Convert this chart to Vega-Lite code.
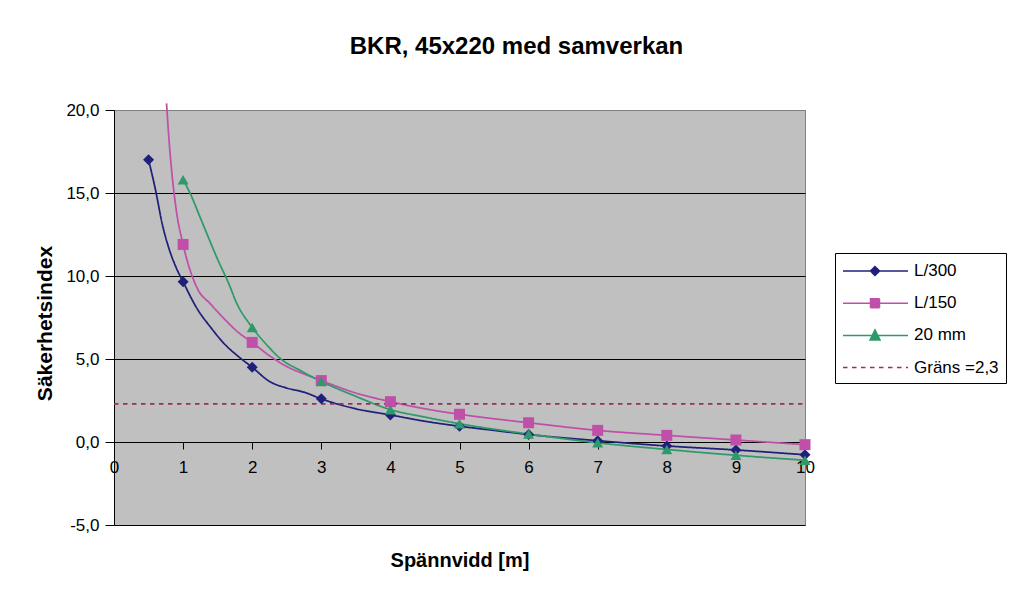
{
  "$schema": "https://vega.github.io/schema/vega-lite/v6.json",
  "width": 691,
  "height": 415,
  "autosize": {"type": "none"},
  "padding": {"left": 114, "top": 110, "right": 207, "bottom": 68},
  "background": "white",
  "title": {
    "text": "BKR, 45x220 med samverkan",
    "font": "Liberation Sans",
    "fontSize": 24,
    "fontWeight": "bold",
    "color": "black",
    "anchor": "middle",
    "dx": 57,
    "baseline": "alphabetic",
    "offset": 22
  },
  "config": {
    "view": {"fill": "#C0C0C0", "stroke": "#808080", "strokeWidth": 1}
  },
  "datasets": {
    "curves": [
      {"series": "L/300", "x": 0.5, "y": 17.0},
      {"series": "L/300", "x": 0.6, "y": 15.2},
      {"series": "L/300", "x": 0.7, "y": 13.1},
      {"series": "L/300", "x": 0.8, "y": 11.6},
      {"series": "L/300", "x": 0.9, "y": 10.5},
      {"series": "L/300", "x": 1.0, "y": 9.65},
      {"series": "L/300", "x": 1.2, "y": 8.05},
      {"series": "L/300", "x": 1.4, "y": 6.9},
      {"series": "L/300", "x": 1.6, "y": 5.9},
      {"series": "L/300", "x": 1.8, "y": 5.15},
      {"series": "L/300", "x": 2.0, "y": 4.5},
      {"series": "L/300", "x": 2.25, "y": 3.65},
      {"series": "L/300", "x": 2.5, "y": 3.25},
      {"series": "L/300", "x": 2.75, "y": 3.0},
      {"series": "L/300", "x": 3.0, "y": 2.6},
      {"series": "L/300", "x": 3.5, "y": 2.0},
      {"series": "L/300", "x": 4.0, "y": 1.63},
      {"series": "L/300", "x": 4.5, "y": 1.25},
      {"series": "L/300", "x": 5.0, "y": 0.95},
      {"series": "L/300", "x": 5.5, "y": 0.7},
      {"series": "L/300", "x": 6.0, "y": 0.45},
      {"series": "L/300", "x": 7.0, "y": 0.08},
      {"series": "L/300", "x": 8.0, "y": -0.24},
      {"series": "L/300", "x": 9.0, "y": -0.48},
      {"series": "L/300", "x": 10.0, "y": -0.77},
      {"series": "L/150", "x": 0.76, "y": 20.4},
      {"series": "L/150", "x": 0.8, "y": 18.0},
      {"series": "L/150", "x": 0.9, "y": 14.0},
      {"series": "L/150", "x": 1.0, "y": 11.9},
      {"series": "L/150", "x": 1.2, "y": 9.3},
      {"series": "L/150", "x": 1.4, "y": 8.3},
      {"series": "L/150", "x": 1.6, "y": 7.4},
      {"series": "L/150", "x": 1.8, "y": 6.6},
      {"series": "L/150", "x": 2.0, "y": 6.0},
      {"series": "L/150", "x": 2.25, "y": 5.2},
      {"series": "L/150", "x": 2.5, "y": 4.55},
      {"series": "L/150", "x": 2.75, "y": 4.1},
      {"series": "L/150", "x": 3.0, "y": 3.7},
      {"series": "L/150", "x": 3.5, "y": 2.95},
      {"series": "L/150", "x": 4.0, "y": 2.43},
      {"series": "L/150", "x": 4.5, "y": 2.0},
      {"series": "L/150", "x": 5.0, "y": 1.67},
      {"series": "L/150", "x": 5.5, "y": 1.4},
      {"series": "L/150", "x": 6.0, "y": 1.16},
      {"series": "L/150", "x": 7.0, "y": 0.7},
      {"series": "L/150", "x": 8.0, "y": 0.4},
      {"series": "L/150", "x": 9.0, "y": 0.12},
      {"series": "L/150", "x": 10.0, "y": -0.16},
      {"series": "20 mm", "x": 1.0, "y": 15.8},
      {"series": "20 mm", "x": 1.1, "y": 15.0},
      {"series": "20 mm", "x": 1.25, "y": 13.5},
      {"series": "20 mm", "x": 1.5, "y": 11.0},
      {"series": "20 mm", "x": 1.68, "y": 9.35},
      {"series": "20 mm", "x": 1.75, "y": 8.6},
      {"series": "20 mm", "x": 2.0, "y": 6.9},
      {"series": "20 mm", "x": 2.2, "y": 5.9},
      {"series": "20 mm", "x": 2.4, "y": 5.05},
      {"series": "20 mm", "x": 2.7, "y": 4.3},
      {"series": "20 mm", "x": 3.0, "y": 3.65},
      {"series": "20 mm", "x": 3.5, "y": 2.75},
      {"series": "20 mm", "x": 4.0, "y": 1.95},
      {"series": "20 mm", "x": 4.5, "y": 1.5},
      {"series": "20 mm", "x": 5.0, "y": 1.1},
      {"series": "20 mm", "x": 6.0, "y": 0.48},
      {"series": "20 mm", "x": 7.0, "y": -0.05},
      {"series": "20 mm", "x": 8.0, "y": -0.45},
      {"series": "20 mm", "x": 9.0, "y": -0.8},
      {"series": "20 mm", "x": 10.0, "y": -1.1},
      {"series": "Gräns =2,3", "x": 0, "y": 2.3},
      {"series": "Gräns =2,3", "x": 10, "y": 2.3}
    ],
    "markers": [
      {"series": "L/300", "x": 0.5, "y": 17.0},
      {"series": "L/300", "x": 1, "y": 9.65},
      {"series": "L/300", "x": 2, "y": 4.5},
      {"series": "L/300", "x": 3, "y": 2.6},
      {"series": "L/300", "x": 4, "y": 1.63},
      {"series": "L/300", "x": 5, "y": 0.95},
      {"series": "L/300", "x": 6, "y": 0.45},
      {"series": "L/300", "x": 7, "y": 0.08},
      {"series": "L/300", "x": 8, "y": -0.24},
      {"series": "L/300", "x": 9, "y": -0.48},
      {"series": "L/300", "x": 10, "y": -0.77},
      {"series": "L/150", "x": 1, "y": 11.9},
      {"series": "L/150", "x": 2, "y": 6.0},
      {"series": "L/150", "x": 3, "y": 3.7},
      {"series": "L/150", "x": 4, "y": 2.43},
      {"series": "L/150", "x": 5, "y": 1.67},
      {"series": "L/150", "x": 6, "y": 1.16},
      {"series": "L/150", "x": 7, "y": 0.7},
      {"series": "L/150", "x": 8, "y": 0.4},
      {"series": "L/150", "x": 9, "y": 0.12},
      {"series": "L/150", "x": 10, "y": -0.16},
      {"series": "20 mm", "x": 1, "y": 15.8},
      {"series": "20 mm", "x": 2, "y": 6.9},
      {"series": "20 mm", "x": 3, "y": 3.65},
      {"series": "20 mm", "x": 4, "y": 1.95},
      {"series": "20 mm", "x": 5, "y": 1.1},
      {"series": "20 mm", "x": 6, "y": 0.48},
      {"series": "20 mm", "x": 7, "y": -0.05},
      {"series": "20 mm", "x": 8, "y": -0.45},
      {"series": "20 mm", "x": 9, "y": -0.8},
      {"series": "20 mm", "x": 10, "y": -1.1}
    ]
  },
  "encoding": {
    "x": {
      "field": "x",
      "type": "quantitative",
      "scale": {"domain": [0, 10], "nice": false, "zero": false},
      "axis": {
        "values": [0, 1, 2, 3, 4, 5, 6, 7, 8, 9, 10],
        "offset": -83,
        "domain": false,
        "grid": false,
        "tickSize": 7,
        "tickColor": "black",
        "tickWidth": 1,
        "labelFont": "Liberation Sans",
        "labelFontSize": 17,
        "labelColor": "black",
        "labelPadding": 10,
        "labelFlush": false,
        "labelOverlap": false,
        "title": "Spännvidd [m]",
        "titleFont": "Liberation Sans",
        "titleFontSize": 20,
        "titleFontWeight": "bold",
        "titleColor": "black",
        "titleX": 345.5,
        "titleY": 124,
        "titleAlign": "center",
        "titleBaseline": "alphabetic"
      }
    },
    "y": {
      "field": "y",
      "type": "quantitative",
      "scale": {"domain": [-5, 20], "nice": false, "zero": false},
      "axis": {
        "values": [-5, 0, 5, 10, 15, 20],
        "labelExpr": "replace(replace(format(datum.value, '.1f'), '.', ','), '−', '-')",
        "grid": true,
        "gridColor": {"condition": {"test": "datum.value === 20", "value": "#808080"}, "value": "black"},
        "gridOpacity": 1,
        "gridWidth": 1,
        "domainColor": "black",
        "domainWidth": 1,
        "tickColor": "black",
        "tickSize": 9,
        "labelPadding": 6,
        "labelFont": "Liberation Sans",
        "labelFontSize": 17,
        "labelColor": "black",
        "title": "Säkerhetsindex",
        "titleFont": "Liberation Sans",
        "titleFontSize": 21,
        "titleFontWeight": "bold",
        "titleColor": "black",
        "titleAngle": 270,
        "titleX": -63,
        "titleY": 213,
        "titleAlign": "center",
        "titleBaseline": "alphabetic"
      }
    },
    "color": {
      "field": "series",
      "type": "nominal",
      "scale": {
        "domain": ["L/300", "L/150", "20 mm", "Gräns =2,3"],
        "range": ["#20207A", "#C04FAA", "#2E9A6A", "#9B2D62"]
      }
    }
  },
  "layer": [
    {
      "data": {"name": "curves"},
      "mark": {"type": "line", "interpolate": "monotone", "strokeWidth": 1.75},
      "encoding": {
        "strokeDash": {
          "field": "series",
          "type": "nominal",
          "scale": {
            "domain": ["L/300", "L/150", "20 mm", "Gräns =2,3"],
            "range": [[1, 0], [1, 0], [1, 0], [4.5, 4.5]]
          },
          "legend": null
        },
        "color": {
          "field": "series",
          "type": "nominal",
          "legend": {
            "title": null,
            "orient": "none",
            "legendX": 721,
            "legendY": 143,
            "strokeColor": "black",
            "fillColor": "white",
            "padding": 7,
            "rowPadding": 13.2,
            "symbolSize": 400,
            "labelOffset": 50,
            "labelFont": "Liberation Sans",
            "labelFontSize": 17,
            "labelColor": "black",
            "labelLimit": 300,
            "encode": {
              "symbols": {
                "update": {
                  "shape": {"signal": "datum.value === 'L/300' ? 'M-1,0H5.5M2.2,-0.45L2.65,0L2.2,0.45L1.75,0Z' : datum.value === 'L/150' ? 'M-1,0H5.5M1.75,-0.45H2.65V0.45H1.75Z' : datum.value === '20 mm' ? 'M-1,0H5.5M1.7,0.45L2.2,-0.55L2.7,0.45Z' : 'M-1,0H5.5'"},
                  "fill": {"signal": "scale('color', datum.value)"},
                  "stroke": {"signal": "scale('color', datum.value)"},
                  "strokeDash": {"signal": "datum.value === 'Gräns =2,3' ? [4.5, 4.5] : [1, 0]"},
                  "strokeWidth": {"value": 1.5},
                  "size": {"value": 400},
                  "opacity": {"value": 1},
                  "fillOpacity": {"value": 1},
                  "strokeOpacity": {"value": 1}
                }
              }
            }
          }
        }
      }
    },
    {
      "data": {"name": "markers"},
      "mark": {"type": "point", "filled": true, "opacity": 1, "size": 121},
      "encoding": {
        "shape": {
          "field": "series",
          "type": "nominal",
          "scale": {
            "domain": ["L/300", "L/150", "20 mm"],
            "range": ["diamond", "square", "triangle-up"]
          },
          "legend": null
        }
      }
    }
  ]
}
